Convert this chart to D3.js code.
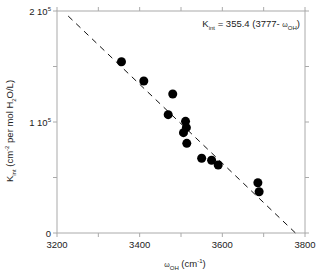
<!DOCTYPE html>
<html><head><meta charset="utf-8">
<script src="https://cdn.jsdelivr.net/npm/d3@7"></script>
<style>body{margin:0;background:#fff}svg{display:block;font-family:"Liberation Sans",Arial,sans-serif}</style>
</head><body>
<script>
const omega = [3356, 3410, 3480, 3469, 3511, 3513, 3506, 3514, 3550, 3574, 3590, 3686, 3689];
const kint = [154300, 136900, 125200, 106600, 100600, 94900, 90400, 80800, 67300, 65500, 61300, 45300, 37200];
const xTickLabels = [3200, 3400, 3600, 3800];
const yTickLabels = [{v:0, m:"0", e:""}, {v:100000, m:"1 10", e:"5"}, {v:200000, m:"2 10", e:"5"}];
const fitA = 355.4, fitB = 3777;
const fitRange = [3227, 3777];

const W = 320, H = 276;
const svg = d3.select("body").append("svg").attr("width", W).attr("height", H);
const x = d3.scaleLinear().domain([3200, 3800]).range([57, 305]);
const y = d3.scaleLinear().domain([0, 200000]).range([233, 11]);
const axisCol = "#aaa", textCol = "#222";

// frame
svg.append("rect").attr("x", 57).attr("y", 11).attr("width", 248).attr("height", 222)
  .attr("fill", "none").attr("stroke", axisCol).attr("stroke-width", 1);

const xt = d3.range(3200, 3801, 100), yt = d3.range(0, 200001, 50000);
const g = svg.append("g").attr("stroke", axisCol).attr("stroke-width", 1);
xt.forEach(v => {
  g.append("line").attr("x1", x(v)).attr("x2", x(v)).attr("y1", 233).attr("y2", 237);
  g.append("line").attr("x1", x(v)).attr("x2", x(v)).attr("y1", 11).attr("y2", 7);
});
yt.forEach(v => {
  g.append("line").attr("y1", y(v)).attr("y2", y(v)).attr("x1", 57).attr("x2", 53);
  g.append("line").attr("y1", y(v)).attr("y2", y(v)).attr("x1", 305).attr("x2", 309);
});

xTickLabels.forEach(v => {
  svg.append("text").attr("x", x(v)).attr("y", 248).attr("text-anchor", "middle")
    .attr("font-size", 9.5).attr("fill", textCol).text(v);
});
yTickLabels.forEach(d => {
  const t = svg.append("text").attr("x", 51).attr("y", y(d.v) + 3.5).attr("text-anchor", "end")
    .attr("font-size", 9.5).attr("fill", textCol);
  t.append("tspan").text(d.m);
  if (d.e) t.append("tspan").attr("dy", -4).attr("font-size", 6).text(d.e);
});

// fit line
const fit = d3.line().x(d => x(d)).y(d => y(fitA * (fitB - d)));
svg.append("path").attr("d", fit(fitRange)).attr("fill", "none").attr("stroke", "#111")
  .attr("stroke-width", 1).attr("stroke-dasharray", "6,5");

// points
svg.selectAll("circle.pt").data(omega).enter().append("circle")
  .attr("cx", d => x(d)).attr("cy", (d, i) => y(kint[i])).attr("r", 4.5).attr("fill", "#000");

// annotation
const ann = svg.append("text").attr("x", 300).attr("y", 27).attr("text-anchor", "end")
  .attr("font-size", 9.5).attr("fill", textCol);
ann.append("tspan").text("K");
ann.append("tspan").attr("font-size", 6).attr("dy", 3).text("int");
ann.append("tspan").attr("dy", -3).text(" = 355.4 (3777- ");
ann.append("tspan").attr("font-size", 7).text("ω");
ann.append("tspan").attr("font-size", 6).attr("dy", 3).text("OH");
ann.append("tspan").attr("dy", -3).text(")");

// x label
const xl = svg.append("text").attr("x", 185).attr("y", 267).attr("text-anchor", "middle")
  .attr("font-size", 9.5).attr("fill", textCol);
xl.append("tspan").attr("font-size", 7).text("ω");
xl.append("tspan").attr("font-size", 6).attr("dy", 3).text("OH");
xl.append("tspan").attr("dy", -3).text(" (cm");
xl.append("tspan").attr("font-size", 6).attr("dy", -4).text("-1");
xl.append("tspan").attr("dy", 4).text(")");

// y label
const yl = svg.append("text").attr("transform", "translate(13,131) rotate(-90)").attr("text-anchor", "middle")
  .attr("font-size", 9.5).attr("fill", textCol);
yl.append("tspan").text("K");
yl.append("tspan").attr("font-size", 6).attr("dy", 3).text("int");
yl.append("tspan").attr("dy", -3).text("  (cm");
yl.append("tspan").attr("font-size", 6).attr("dy", -4).text("-2");
yl.append("tspan").attr("dy", 4).text(" per mol H");
yl.append("tspan").attr("font-size", 6).attr("dy", 3).text("2");
yl.append("tspan").attr("dy", -3).text("O/L)");
</script>
</body></html>
